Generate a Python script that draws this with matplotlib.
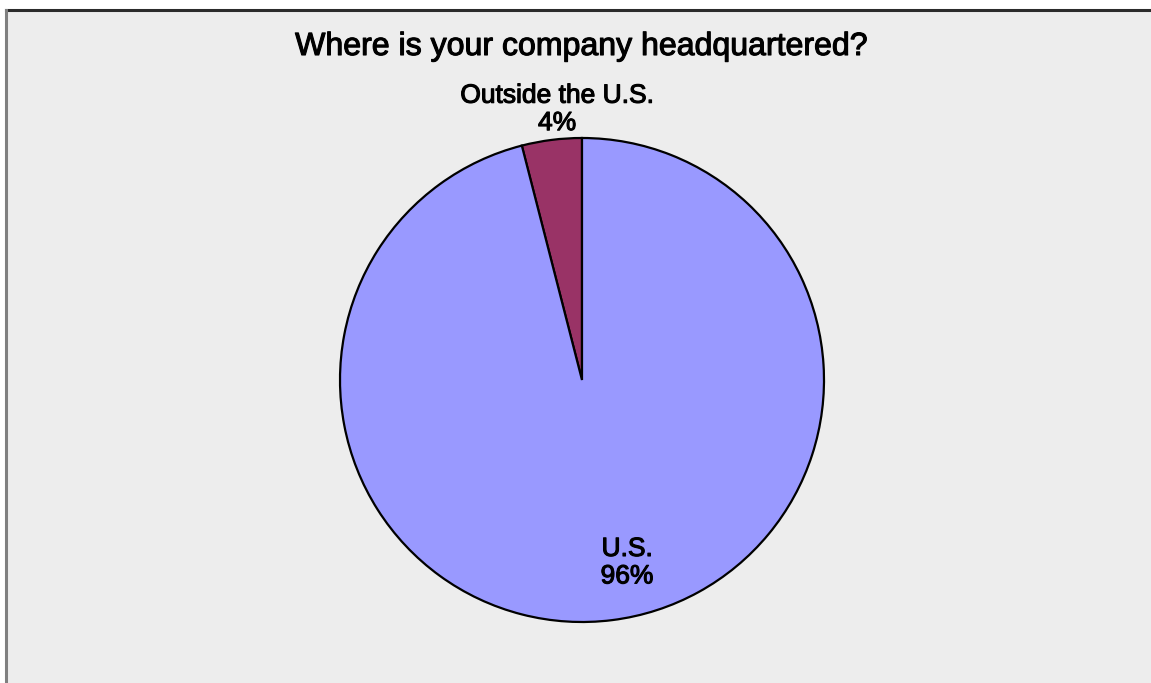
import matplotlib
matplotlib.use("Agg")
import matplotlib.pyplot as plt
import matplotlib.patheffects as pe
from matplotlib.patches import Rectangle
from matplotlib.lines import Line2D

labels = ["Outside the U.S.", "U.S."]
shares = [4, 96]
colors = ["#993366", "#9999FF"]

W, H = 1151, 683
plt.rcParams["font.family"] = ["Liberation Sans", "DejaVu Sans"]

fig = plt.figure(figsize=(W / 100, H / 100), dpi=100)
fig.patch.set_facecolor("white")

# chart area panel with its frame, in a background axes
bg = fig.add_axes([0, 0, 1, 1], zorder=0)
bg.set_xlim(0, W)
bg.set_ylim(H, 0)
bg.axis("off")
bg.add_patch(Rectangle((6, 9.5), W, H, facecolor="#EDEDED", edgecolor="none"))
bg.add_line(Line2D([6, W], [9.5, 9.5], color="#2b2b2b", lw=2.2))
bg.add_line(Line2D([6, 6], [9.5, H], color="#808080", lw=2.2))

cx, cy, r = 582, H - 380, 242
ax = fig.add_axes([(cx - r) / W, (cy - r) / H, 2 * r / W, 2 * r / H], zorder=1)
ax.pie(shares, colors=colors, startangle=90, counterclock=True, radius=1,
       wedgeprops=dict(edgecolor="black", linewidth=1.6))
ax.set_xlim(-1, 1)
ax.set_ylim(-1, 1)
ax.axis("off")

thick = [pe.withStroke(linewidth=0.8, foreground="black")]
ax.text(-0.103, 1.118, f"{labels[0]}\n{shares[0]}%", ha="center", va="center",
        fontsize=19, linespacing=1.18, clip_on=False, path_effects=thick)
ax.text(0.186, -0.755, f"{labels[1]}\n{shares[1]}%", ha="center", va="center",
        fontsize=19, linespacing=1.18, path_effects=thick)

fig.text(cx / W, 1 - 47 / H, "Where is your company headquartered?", ha="center",
         va="center", fontsize=23.1, path_effects=thick, zorder=2)

fig.savefig("out.png", dpi=100)
